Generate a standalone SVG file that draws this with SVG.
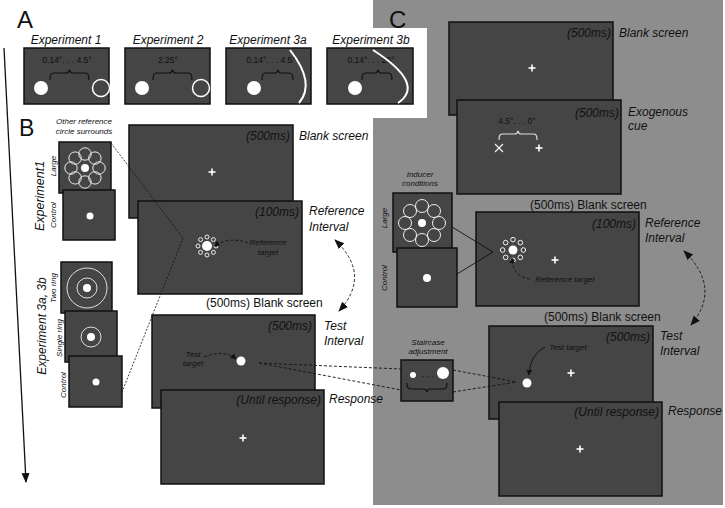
<svg xmlns="http://www.w3.org/2000/svg" width="725" height="508" viewBox="0 0 725 508">
<style>
text{font-family:"Liberation Sans",Arial,sans-serif;fill:#111}
.scr{fill:#454545;stroke:#111;stroke-width:1.5}
.it{font-style:italic}
.t12{font-size:12px}
.t8{font-size:8px;font-style:italic}
.dt{font-size:8.5px;fill:#111}
.wd{fill:#fff}
.wr{fill:none;stroke:#fff;stroke-width:1.5}
.wr1{fill:none;stroke:#ddd;stroke-width:1}
.cr{stroke:#fff;stroke-width:1.6}
.br{fill:none;stroke:#111;stroke-width:1.2}
.dash{fill:none;stroke:#111;stroke-width:0.9;stroke-dasharray:3 2}
.dot{fill:none;stroke:#111;stroke-width:0.8;stroke-dasharray:2 1.5}
.lbl{font-size:24px}
.ringL{fill:none;stroke:#eee;stroke-width:1}
</style>
<defs>
<marker id="ah" viewBox="0 0 10 10" refX="9" refY="5" markerWidth="6" markerHeight="6" orient="auto-start-reverse" markerUnits="userSpaceOnUse"><path d="M0,0 L10,5 L0,10 z" fill="#111"/></marker>
<marker id="ahb" viewBox="0 0 10 10" refX="9" refY="5" markerWidth="10" markerHeight="10" orient="auto-start-reverse" markerUnits="userSpaceOnUse"><path d="M0,1 L10,5 L0,9 z" fill="#111"/></marker>
<g id="ring8">
<circle cx="0" cy="-9" r="2"/><circle cx="6.4" cy="-6.4" r="2"/><circle cx="9" cy="0" r="2"/><circle cx="6.4" cy="6.4" r="2"/><circle cx="0" cy="9" r="2"/><circle cx="-6.4" cy="6.4" r="2"/><circle cx="-9" cy="0" r="2"/><circle cx="-6.4" cy="-6.4" r="2"/>
</g>
<g id="ringB">
<circle cx="0" cy="-14" r="6.2"/><circle cx="9.9" cy="-9.9" r="6.2"/><circle cx="14" cy="0" r="6.2"/><circle cx="9.9" cy="9.9" r="6.2"/><circle cx="0" cy="14" r="6.2"/><circle cx="-9.9" cy="9.9" r="6.2"/><circle cx="-14" cy="0" r="6.2"/><circle cx="-9.9" cy="-9.9" r="6.2"/>
</g>
<g id="ringC">
<circle cx="0" cy="-17" r="6.5"/><circle cx="12" cy="-12" r="6.5"/><circle cx="17" cy="0" r="6.5"/><circle cx="12" cy="12" r="6.5"/><circle cx="0" cy="17" r="6.5"/><circle cx="-12" cy="12" r="6.5"/><circle cx="-17" cy="0" r="6.5"/><circle cx="-12" cy="-12" r="6.5"/>
</g>
<g id="cross"><line x1="-3.5" y1="0" x2="3.5" y2="0" class="cr"/><line x1="0" y1="-3.5" x2="0" y2="3.5" class="cr"/></g>
</defs>

<rect x="0" y="0" width="725" height="508" fill="#fff"/>
<!-- Panel C background -->
<rect id="panelC-bg" x="373" y="0" width="350" height="505" fill="#8d8d8d"/>
<rect x="0" y="28" width="427" height="90" fill="#fff"/>

<!-- Panel letters -->
<text x="17" y="28" class="lbl">A</text>
<text x="19" y="136" class="lbl" style="font-size:23px">B</text>
<text x="389" y="28" class="lbl">C</text>

<!-- time arrow -->
<g id="time-arrow"><line x1="4" y1="48" x2="26" y2="482" stroke="#111" stroke-width="1.3" marker-end="url(#ahb)"/></g>

<!-- Panel A -->
<g id="exp1">
<text x="66" y="44" class="it t12" text-anchor="middle">Experiment 1</text>
<rect x="24" y="48" width="85" height="56" class="scr"/>
<text x="67" y="63" class="dt" text-anchor="middle">0.14°. . . 4.5°</text>
<path class="br" d="M50,80 C50,74 51,73 55,73 L66,73 C68,73 69,72 69.5,70 C70,72 71,73 73,73 L84,73 C88,73 89,74 89,80"/>
<circle cx="41" cy="88" r="7" class="wd"/>
<circle cx="101" cy="88" r="8.5" class="wr"/>
</g>
<g id="exp2">
<text x="168" y="44" class="it t12" text-anchor="middle">Experiment 2</text>
<rect x="125" y="48" width="85" height="56" class="scr"/>
<text x="168" y="63" class="dt" text-anchor="middle">2.25°</text>
<path class="br" d="M153,80 C153,74 154,73 158,73 L169,73 C171,73 172,72 172.5,70 C173,72 174,73 176,73 L187,73 C191,73 192,74 192,80"/>
<circle cx="142" cy="88" r="7" class="wd"/>
<circle cx="201" cy="88" r="8.5" class="wr"/>
</g>
<g id="exp3a">
<text x="268" y="44" class="it t12" text-anchor="middle">Experiment 3a</text>
<rect x="226" y="48" width="85" height="56" class="scr"/>
<text x="271" y="63" class="dt" text-anchor="middle">0.14°. . . 4.5°</text>
<path class="br" d="M262,80 C262,74 263,73 267,73 L275,73 C277,73 277.5,72 278,70 C278.5,72 279,73 281,73 L288,73 C292,73 293,74 293,80"/>
<circle cx="254" cy="88" r="7" class="wd"/>
<path d="M290,50 Q316,83 299,103" fill="none" stroke="#fff" stroke-width="2"/>
</g>
<g id="exp3b">
<text x="371" y="44" class="it t12" text-anchor="middle">Experiment 3b</text>
<rect x="327" y="48" width="86" height="56" class="scr"/>
<text x="371" y="63" class="dt" text-anchor="middle">0.14°. . . 20°</text>
<path class="br" d="M362,80 C362,74 363,73 367,73 L375,73 C377,73 377.5,72 378,70 C378.5,72 379,73 381,73 L387,73 C391,73 392,74 392,80"/>
<circle cx="355" cy="88" r="7" class="wd"/>
<path d="M373,50 Q426,84 398,103" fill="none" stroke="#fff" stroke-width="2"/>
</g>

<!-- Panel B conditions -->
<g id="B-other-label">
<text x="84" y="124" class="t8" text-anchor="middle">Other reference</text>
<text x="84" y="134" class="t8" text-anchor="middle">circle surrounds</text>
</g>
<text x="44" y="196" class="it" style="font-size:12.5px" text-anchor="middle" transform="rotate(-90 44 196)">Experiment1</text>
<g id="B-large">
<rect x="59" y="142" width="52" height="51" class="scr"/>
<use href="#ringB" transform="translate(85,168)" class="ringL"/>
<circle cx="85" cy="168" r="4" class="wd"/>
<text x="56" y="166" class="t8" text-anchor="middle" transform="rotate(-90 56 166)">Large</text>
</g>
<g id="B-control1">
<rect x="63" y="190" width="52" height="50" class="scr"/>
<circle cx="90" cy="216" r="3.5" class="wd"/>
<text x="56" y="215" class="t8" text-anchor="middle" transform="rotate(-90 56 215)">Control</text>
</g>
<text x="46" y="326" class="it t12" text-anchor="middle" transform="rotate(-90 46 326)">Experiment 3a, 3b</text>
<g id="B-tworing">
<rect x="61" y="262" width="51" height="51" class="scr"/>
<circle cx="87" cy="288" r="20" class="wr1"/>
<circle cx="87" cy="288" r="10" class="wr1"/>
<circle cx="87" cy="288" r="4" class="wd"/>
<text x="56" y="288" class="t8" text-anchor="middle" transform="rotate(-90 56 288)">Two ring</text>
</g>
<g id="B-singlering">
<rect x="65" y="311" width="52" height="51" class="scr"/>
<circle cx="91" cy="337" r="10" class="wr1"/>
<circle cx="91" cy="337" r="4" class="wd"/>
<text x="62" y="338" class="t8" text-anchor="middle" transform="rotate(-90 62 338)">Single ring</text>
</g>
<g id="B-control3">
<rect x="69" y="356" width="53" height="51" class="scr"/>
<circle cx="96" cy="382" r="3.5" class="wd"/>
<text x="66" y="385" class="t8" text-anchor="middle" transform="rotate(-90 66 385)">Control</text>
</g>

<!-- Panel B screens -->
<g id="B-blank">
<rect x="129" y="125" width="164" height="93" class="scr"/>
<text x="290" y="140" class="it t12" text-anchor="end" fill="#1a1a1a">(500ms)</text>
<use href="#cross" x="212" y="172"/>
<text x="299" y="140" class="it t12">Blank screen</text>
</g>
<g id="B-reference">
<rect x="138" y="201" width="164" height="93" class="scr"/>
<text x="299" y="216" class="it t12" text-anchor="end">(100ms)</text>
<text x="309" y="215" class="it t12">Reference</text>
<text x="309" y="231" class="it t12">Interval</text>
<use href="#ring8" transform="translate(207,246)" style="fill:none;stroke:#fff;stroke-width:0.9"/>
<circle cx="207" cy="246" r="5" class="wd"/>
<text x="268" y="245" class="t8" text-anchor="middle">Reference</text>
<text x="268" y="255" class="t8" text-anchor="middle">target</text>
<path d="M248,243 Q230,236 214,246" class="dash" stroke-width="0.8" marker-end="url(#ah)"/>
</g>
<text x="206" y="307" class="t12">(500ms) Blank screen</text>
<g id="B-test">
<rect x="152" y="315" width="163" height="93" class="scr"/>
<text x="312" y="330" class="it t12" text-anchor="end">(500ms)</text>
<text x="324" y="330" class="it t12">Test</text>
<text x="324" y="345" class="it t12">Interval</text>
<circle cx="241" cy="361" r="4.5" class="wd"/>
<text x="193" y="357" class="t8" text-anchor="middle">Test</text>
<text x="193" y="366" class="t8" text-anchor="middle">target</text>
<path d="M204,357 Q224,349 236,359" class="dash" stroke-width="0.8" marker-end="url(#ah)"/>
</g>
<g id="B-response">
<rect x="161" y="390" width="163" height="94" class="scr"/>
<text x="321" y="404" class="it t12" text-anchor="end">(Until response)</text>
<text x="329" y="403" class="it t12">Response</text>
<use href="#cross" x="243" y="438"/>
</g>

<!-- Panel C -->
<g id="C-blank">
<rect x="449" y="22" width="164" height="93" class="scr"/>
<text x="611" y="37" class="it t12" text-anchor="end">(500ms)</text>
<text x="619" y="37" class="it t12">Blank screen</text>
<use href="#cross" x="532" y="68"/>
</g>
<g id="C-exo">
<rect x="457" y="100" width="164" height="94" class="scr"/>
<text x="619" y="117" class="it t12" text-anchor="end">(500ms)</text>
<text x="628" y="116" class="it t12">Exogenous</text>
<text x="628" y="130" class="it t12">cue</text>
<text x="517" y="124" class="dt" text-anchor="middle">4.5°. . . 0°</text>
<path fill="none" stroke="#ddd" stroke-width="1.2" d="M499,140 C499,135 500,134 503,134 L515,134 C517,134 517.5,133 518,131 C518.5,133 519,134 521,134 L533,134 C536,134 537,135 537,140"/>
<line x1="495" y1="144" x2="503" y2="152" stroke="#eee" stroke-width="1.3"/>
<line x1="503" y1="144" x2="495" y2="152" stroke="#eee" stroke-width="1.3"/>
<use href="#cross" x="539" y="148"/>
</g>
<g id="C-inducer-label">
<text x="420" y="177" class="t8" text-anchor="middle">Inducer</text>
<text x="420" y="186" class="t8" text-anchor="middle">conditions</text>
</g>
<g id="C-large">
<rect x="393" y="193" width="59" height="59" class="scr"/>
<use href="#ringC" transform="translate(422,223)" class="ringL"/>
<circle cx="422" cy="223" r="4" class="wd"/>
<text x="387" y="218" class="t8" text-anchor="middle" transform="rotate(-90 387 218)">Large</text>
</g>
<g id="C-control">
<rect x="397" y="248" width="60" height="59" class="scr"/>
<circle cx="427" cy="278" r="4" class="wd"/>
<text x="387" y="278" class="t8" text-anchor="middle" transform="rotate(-90 387 278)">Control</text>
</g>
<text x="530" y="209" class="t12">(500ms) Blank screen</text>
<g id="C-reference">
<rect x="476" y="212" width="163" height="94" class="scr"/>
<text x="636" y="228" class="it t12" text-anchor="end">(100ms)</text>
<text x="645" y="227" class="it t12">Reference</text>
<text x="645" y="242" class="it t12">Interval</text>
<use href="#ring8" transform="translate(513,250) scale(1.15)" style="fill:none;stroke:#fff;stroke-width:0.8"/>
<circle cx="513" cy="250" r="4.5" class="wd"/>
<use href="#cross" x="555" y="260"/>
<text x="565" y="282" class="t8" text-anchor="middle">Reference target</text>
<path d="M530,279 Q512,276 512,258" class="dash" stroke-width="0.8" marker-end="url(#ah)"/>
</g>
<text x="544" y="321" class="t12">(500ms) Blank screen</text>
<g id="C-staircase">
<text x="428" y="345" class="t8" text-anchor="middle">Staircase</text>
<text x="428" y="354" class="t8" text-anchor="middle">adjustment</text>
<rect x="401" y="360" width="52" height="41" class="scr"/>
<circle cx="413" cy="375" r="3" class="wd"/>
<circle cx="443" cy="373" r="6" class="wd"/>
<text x="428" y="377" class="dt" text-anchor="middle">. . .</text>
<path class="br" d="M407,383 C407,388 408,389 412,389 L424,389 C426,389 426.5,390 427,392 C427.5,390 428,389 430,389 L442,389 C446,389 447,388 447,383"/>
</g>
<g id="C-test">
<rect x="489" y="326" width="164" height="93" class="scr"/>
<text x="650" y="341" class="it t12" text-anchor="end">(500ms)</text>
<text x="660" y="340" class="it t12">Test</text>
<text x="660" y="355" class="it t12">Interval</text>
<circle cx="527" cy="383" r="4.5" class="wd"/>
<use href="#cross" x="571" y="373"/>
<text x="568" y="350" class="t8" text-anchor="middle">Test target</text>
<path d="M545,347 Q530,354 529,375" fill="none" stroke="#111" stroke-width="0.9" marker-end="url(#ah)"/>
</g>
<g id="C-response">
<rect x="499" y="402" width="163" height="94" class="scr"/>
<text x="659" y="416" class="it t12" text-anchor="end">(Until response)</text>
<text x="668" y="415" class="it t12">Response</text>
<use href="#cross" x="580" y="449"/>
</g>

<!-- Connectors -->
<g id="connectors">
<polyline points="111,143 183,238 122,392" class="dot"/>
<line x1="259" y1="363" x2="401" y2="369" class="dash"/>
<line x1="259" y1="363" x2="401" y2="390" class="dash"/>
<line x1="453" y1="370" x2="517" y2="382" class="dash"/>
<line x1="453" y1="392" x2="517" y2="382" class="dash"/>
<line x1="452" y1="227" x2="493" y2="252" stroke="#111" stroke-width="0.9"/>
<line x1="457" y1="274" x2="493" y2="252" stroke="#111" stroke-width="0.9"/>
<path d="M335,240 Q372,275 339,311" class="dash" marker-start="url(#ahb)" marker-end="url(#ahb)"/>
<path d="M684,251 Q722,288 691,325" class="dash" marker-start="url(#ahb)" marker-end="url(#ahb)"/>
</g>
</svg>
